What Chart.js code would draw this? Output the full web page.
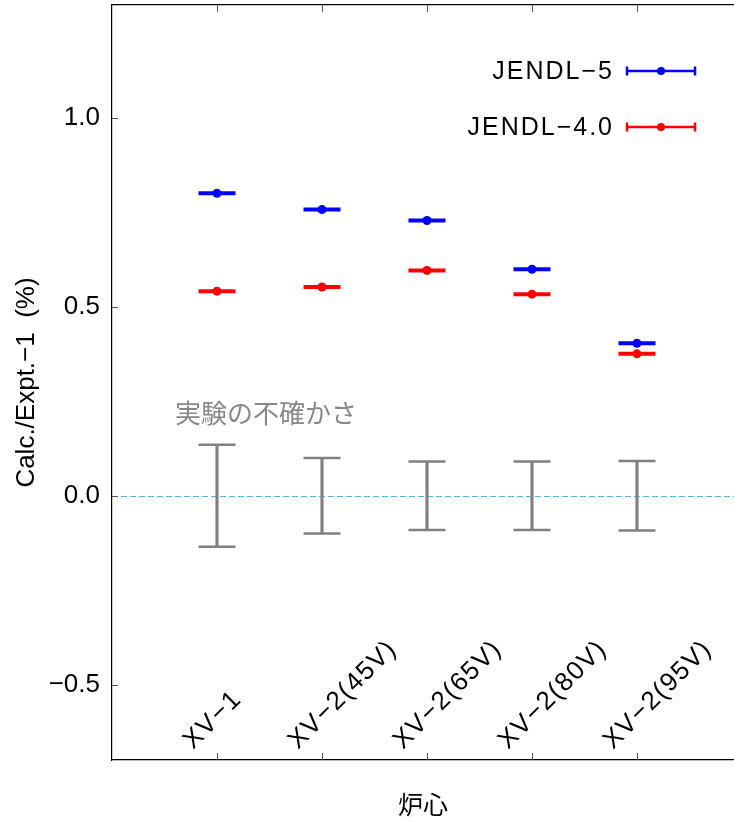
<!DOCTYPE html>
<html><head><meta charset="utf-8">
<script src="https://cdn.jsdelivr.net/npm/chart.js@4.4.1/dist/chart.umd.min.js"></script>
<style>html,body{margin:0;padding:0;background:#fff;overflow:hidden}#wrap{width:734px;height:821px;position:relative}</style>
</head><body><div id="wrap"><canvas id="c" width="734" height="821"></canvas></div>
<script>
const categories = ['XV−1', 'XV−2(45V)', 'XV−2(65V)', 'XV−2(80V)', 'XV−2(95V)'];
const jendl5 = [0.801, 0.758, 0.729, 0.600, 0.404];
const jendl40 = [0.542, 0.553, 0.597, 0.534, 0.376];
const exptUnc = [0.135, 0.100, 0.091, 0.091, 0.092];
const yTicks = [-0.5, 0.0, 0.5, 1.0];
const seriesLabels = ['JENDL−5', 'JENDL−4.0'];
const yTitle = 'Calc./Expt.−1  (%)';
const xTitle = '炉心';
const uncLabel = '実験の不確かさ';
const uncLabelPos = {x: -0.40, y: 0.22};

const BLUE = '#0000ff', RED = '#ff0000', GRAY = '#808080';
const LATIN = '"Liberation Sans", Arial, "Noto Sans CJK JP", sans-serif';
const CJK = '"Noto Sans CJK JP", "Liberation Sans", sans-serif';

const pts = arr => arr.map((v, i) => ({x: i, y: v}));
const noPad = s => { s.paddingTop = 0; s.paddingBottom = 0; s.paddingLeft = 0; s.paddingRight = 0; };

const zeroLine = {
  id: 'zeroLine',
  beforeDatasetsDraw(chart) {
    const {ctx, chartArea: a, scales: {y}} = chart;
    const py = Math.round(y.getPixelForValue(0)) + 0.5;
    ctx.save();
    ctx.strokeStyle = '#56b4e9'; ctx.lineWidth = 1; ctx.setLineDash([6, 3]);
    ctx.beginPath(); ctx.moveTo(a.left, py); ctx.lineTo(a.right, py); ctx.stroke();
    ctx.restore();
  }
};

const deco = {
  id: 'deco',
  afterDatasetsDraw(chart) {
    const {ctx, chartArea: a, scales: {x, y}} = chart;
    const line = (x1, y1, x2, y2) => { ctx.beginPath(); ctx.moveTo(x1, y1); ctx.lineTo(x2, y2); ctx.stroke(); };
    ctx.save();
    // inward tick marks
    ctx.strokeStyle = '#555'; ctx.lineWidth = 1;
    categories.forEach((c, i) => {
      const px = Math.round(x.getPixelForValue(i)) + 0.5;
      line(px, a.bottom, px, a.bottom - 7);
      line(px, a.top, px, a.top + 7);
    });
    yTicks.forEach(v => {
      const py = Math.round(y.getPixelForValue(v)) + 0.5;
      line(a.left, py, a.left + 6, py);
    });
    // rotated category labels inside plot
    ctx.fillStyle = '#000';
    ctx.font = '26px ' + LATIN;
    ctx.letterSpacing = '1.5px';
    ctx.textAlign = 'left'; ctx.textBaseline = 'alphabetic';
    categories.forEach((c, i) => {
      const px = x.getPixelForValue(i);
      ctx.save();
      ctx.translate(px - 24, a.bottom - 10);
      ctx.rotate(-Math.PI / 4);
      ctx.fillText(c, 0, 0);
      ctx.restore();
    });
    ctx.letterSpacing = '0px';
    // uncertainty annotation
    ctx.fillStyle = '#888';
    ctx.font = '26px ' + CJK;
    ctx.textBaseline = 'middle';
    ctx.fillText(uncLabel, x.getPixelForValue(uncLabelPos.x), y.getPixelForValue(uncLabelPos.y));
    // legend
    const colors = [BLUE, RED];
    seriesLabels.forEach((lab, k) => {
      const cy = a.top + 66 + k * 56;
      ctx.fillStyle = '#000';
      ctx.font = '25px ' + LATIN;
      ctx.letterSpacing = '2px';
      ctx.textAlign = 'right'; ctx.textBaseline = 'middle';
      ctx.fillText(lab, a.right - 120, cy + 1);
      ctx.letterSpacing = '0px';
      const x1 = a.right - 107, x2 = a.right - 39, xm = (x1 + x2) / 2;
      ctx.strokeStyle = colors[k]; ctx.lineWidth = 2.5;
      line(x1, cy, x2, cy);
      line(x1, cy - 4.5, x1, cy + 4.5);
      line(x2, cy - 4.5, x2, cy + 4.5);
      ctx.fillStyle = colors[k];
      ctx.beginPath(); ctx.arc(xm, cy, 4, 0, Math.PI * 2); ctx.fill();
    });
    ctx.restore();
  }
};

new Chart(document.getElementById('c'), {
  type: 'scatter',
  data: {
    datasets: [
      {label: seriesLabels[0] + ' pt', data: pts(jendl5), pointStyle: 'circle', pointRadius: 4.5, backgroundColor: BLUE, borderWidth: 0},
      {label: seriesLabels[1] + ' pt', data: pts(jendl40), pointStyle: 'circle', pointRadius: 4.5, backgroundColor: RED, borderWidth: 0},
      {label: seriesLabels[0], data: pts(jendl5), pointStyle: 'line', pointRadius: 18.5, borderColor: BLUE, borderWidth: 4},
      {label: seriesLabels[1], data: pts(jendl40), pointStyle: 'line', pointRadius: 18.5, borderColor: RED, borderWidth: 4},
      {label: 'unc caps', data: exptUnc.flatMap((u, i) => [{x: i, y: u}, {x: i, y: -u}]), pointStyle: 'line', pointRadius: 18.5, borderColor: GRAY, borderWidth: 2.5},
      {type: 'bar', label: 'unc', data: exptUnc.map((u, i) => ({x: i, y: [-u, u]})), backgroundColor: GRAY, borderWidth: 0, barThickness: 2.5}
    ]
  },
  options: {
    responsive: false,
    animation: false,
    events: [],
    devicePixelRatio: 1,
    layout: {autoPadding: false, padding: {top: 5, left: 0, right: 0, bottom: 0}},
    plugins: {legend: {display: false}, tooltip: {enabled: false}},
    scales: {
      x: {
        type: 'linear', position: 'bottom', min: -1, max: 4.924, offset: false,
        ticks: {display: false},
        grid: {display: false, drawTicks: false, offset: false},
        border: {display: true, color: '#000', width: 1.2},
        title: {display: true, text: xTitle, color: '#000', font: {family: CJK, size: 25}, padding: {top: 0, bottom: 2}},
        afterFit: s => { s.height = 61; noPad(s); }
      },
      xTop: {
        type: 'linear', position: 'top', min: -1, max: 4.924, offset: false,
        ticks: {display: false},
        grid: {display: false, drawTicks: false},
        border: {display: true, color: '#000', width: 1.2},
        afterFit: s => { s.height = 0; noPad(s); }
      },
      y: {
        type: 'linear', position: 'left', min: -0.7, max: 1.3,
        afterBuildTicks: s => { s.ticks = yTicks.map(v => ({value: v})); },
        ticks: {
          color: '#000', font: {family: LATIN, size: 26}, padding: 12,
          callback: v => (v < 0 ? '−' : '') + Math.abs(v).toFixed(1)
        },
        grid: {display: false, drawTicks: false},
        border: {display: true, color: '#000', width: 1.2},
        title: {display: true, text: yTitle, color: '#000', font: {family: LATIN, size: 26}, padding: {top: 11, bottom: 0}},
        afterFit: s => { s.width = 112; noPad(s); }
      }
    }
  },
  plugins: [zeroLine, deco]
});
</script>
</body></html>
